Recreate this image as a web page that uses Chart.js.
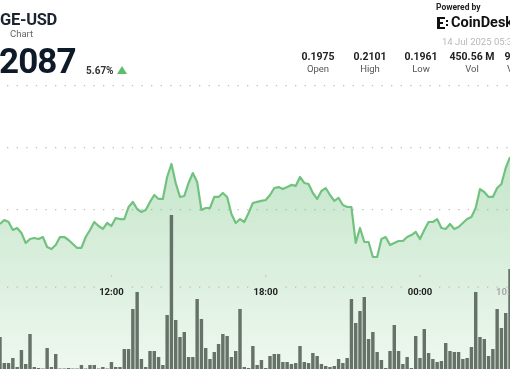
<!DOCTYPE html>
<html>
<head>
<meta charset="utf-8">
<script src="https://cdn.jsdelivr.net/npm/chart.js@4.4.0/dist/chart.umd.min.js"></script>
<style>
html, body { margin: 0; padding: 0; background: #fff; }
#wrap { position: relative; width: 510px; height: 369px; overflow: hidden; font-family: Roboto, "Noto Sans", sans-serif; }
#chart { position: absolute; left: 0; top: 0; }
.t { position: absolute; line-height: 1; white-space: nowrap; }
.stat { position: absolute; width: 60px; text-align: center; line-height: 1; white-space: nowrap; }
.stat b { display: block; font-size: 10.5px; font-weight: 700; color: #222; }
.stat span { display: block; font-size: 9.5px; color: #555; margin-top: 1.5px; }
.tick { position: absolute; width: 40px; text-align: center; font-size: 9.5px; font-weight: 700; color: #222; line-height: 1; }
</style>
</head>
<body>
<div id="wrap">
  <canvas id="chart" width="510" height="369"></canvas>

  <div class="t" style="left:0;top:12px;font-size:16.5px;font-weight:700;color:#1b2430;letter-spacing:-0.3px">GE-USD</div>
  <div class="t" style="left:10px;top:28.5px;font-size:9.5px;color:#666">Chart</div>
  <div class="t" style="left:-1px;top:43.5px;font-size:35px;font-weight:700;color:#0e1a28;letter-spacing:-0.9px">2087</div>
  <div class="t" style="left:86px;top:65.5px;font-size:10px;font-weight:700;color:#333">5.67%</div>
  <div style="position:absolute;left:117px;top:66px;width:0;height:0;border-left:5px solid transparent;border-right:5px solid transparent;border-bottom:8px solid #5bbd6a"></div>

  <div class="t" style="left:436px;top:2.5px;font-size:8.5px;font-weight:700;color:#222">Powered by</div>
  <div style="position:absolute;left:437px;top:17px;width:3px;height:12px;background:#111"></div>
  <div style="position:absolute;left:437px;top:17px;width:8px;height:2px;background:#111"></div>
  <div style="position:absolute;left:437px;top:22px;width:6px;height:2px;background:#111"></div>
  <div style="position:absolute;left:437px;top:27px;width:8px;height:2px;background:#111"></div>
  <div style="position:absolute;left:446px;top:20px;width:2px;height:2px;background:#111"></div>
  <div style="position:absolute;left:446px;top:24px;width:2px;height:2px;background:#111"></div>
  <div class="t" style="left:451px;top:16px;font-size:14.5px;font-weight:700;color:#111">CoinDesk</div>
  <div class="t" style="left:442px;top:36.5px;font-size:9.5px;color:#b8b8b8">14 Jul 2025 05:30</div>

  <div class="stat" style="left:288px;top:51.5px"><b>0.1975</b><span>Open</span></div>
  <div class="stat" style="left:340px;top:51.5px"><b>0.2101</b><span>High</span></div>
  <div class="stat" style="left:391px;top:51.5px"><b>0.1961</b><span>Low</span></div>
  <div class="stat" style="left:442px;top:51.5px"><b>450.56 M</b><span>Vol</span></div>
  <div class="stat" style="left:494px;top:51.5px"><b>91.02 M</b><span>Vol USD</span></div>

  <div class="t" style="left:496px;top:286.5px;font-size:9.5px;font-weight:700;color:#aaa">10:30</div>
</div>

<script>
// 10-minute candles, first one at 07:40
const startTime = '07:40';
const stepMinutes = 10;

// volume per candle (M)
const volumes = [
  6.4, 1.2, 1.2, 2.2, 0.4, 3.8, 1.0, 7.0, 0.4, 0.2,
  0.1, 4.2, 0.4, 3.0, 0.1, 0.1, 0.2, 0.1, 0.1, 0.8,
  0.1, 0.8, 0.8, 0.1, 0.4, 0.1, 1.4, 0.4, 0.4, 4.0,
  4.0, 12.0, 15.4, 2.0, 0.4, 3.6, 3.6, 2.4, 0.8, 10.8,
  30.8, 9.8, 6.4, 7.4, 2.4, 2.4, 14.0, 10.0, 4.2, 2.0,
  3.4, 5.0, 7.0, 6.6, 2.4, 3.6, 12.0, 0.4, 0.2, 4.6,
  0.8, 1.8, 0.2, 2.6, 3.0, 3.0, 1.4, 1.4, 1.0, 1.2,
  4.6, 1.4, 1.2, 3.2, 2.6, 1.0, 0.6, 0.4, 0.6, 2.0,
  1.2, 2.2, 14.0, 9.2, 11.6, 14.4, 6.0, 7.4, 3.4, 1.8,
  0.2, 3.6, 8.8, 3.6, 1.0, 2.4, 0.2, 6.6, 2.2, 8.0,
  3.2, 2.0, 1.4, 1.6, 5.2, 3.6, 3.4, 3.4, 2.0, 2.2,
  4.4, 15.4, 6.4, 6.0, 2.6, 4.0, 12.0, 8.2, 11.2, 20.0
];

// close price per candle (USD)
const prices = [
  0.19887, 0.19919, 0.19903, 0.19839, 0.19855, 0.19815, 0.19734, 0.19766, 0.19774, 0.19766,
  0.19782, 0.19702, 0.19685, 0.19718, 0.19782, 0.19782, 0.19758, 0.19726, 0.19694, 0.19694,
  0.19782, 0.19839, 0.19903, 0.19871, 0.19847, 0.19895, 0.19871, 0.19935, 0.19927, 0.19927,
  0.20024, 0.20065, 0.20008, 0.19984, 0.20000, 0.20065, 0.20121, 0.20089, 0.20089, 0.20266,
  0.20371, 0.20218, 0.20105, 0.20113, 0.20218, 0.20298, 0.20226, 0.20000, 0.20016, 0.20016,
  0.20105, 0.20105, 0.20137, 0.20105, 0.19968, 0.19895, 0.19927, 0.19903, 0.19976, 0.20056,
  0.20065, 0.20073, 0.20081, 0.20121, 0.20177, 0.20185, 0.20169, 0.20185, 0.20202, 0.20194,
  0.20266, 0.20218, 0.20210, 0.20137, 0.20089, 0.20153, 0.20177, 0.20121, 0.20073, 0.20097,
  0.20040, 0.20024, 0.20024, 0.19734, 0.19855, 0.19742, 0.19742, 0.19621, 0.19621, 0.19766,
  0.19782, 0.19718, 0.19734, 0.19750, 0.19750, 0.19782, 0.19798, 0.19823, 0.19766, 0.19839,
  0.19903, 0.19903, 0.19927, 0.19855, 0.19847, 0.19887, 0.19847, 0.19863, 0.19895, 0.19927,
  0.19944, 0.20016, 0.20169, 0.20145, 0.20105, 0.20105, 0.20177, 0.20210, 0.20339, 0.20427
];

const tickLabels = ['12:00', '18:00', '00:00'];
const priceGrid = [0.21, 0.205, 0.2];

// build the candle time labels
const [h0, m0] = startTime.split(':').map(Number);
const labels = volumes.map((_, i) => {
    const m = (h0 * 60 + m0 + i * stepMinutes) % 1440;
    return String(Math.floor(m / 60)).padStart(2, '0') + ':' + String(m % 60).padStart(2, '0');
});

// dotted time row behind the bars
const timeRow = {
    id: 'timeRow',
    beforeDatasetsDraw(chart) {
        const { ctx, scales } = chart;
        const gaps = tickLabels.map(l => scales.x.getPixelForValue(labels.indexOf(l)));
        ctx.save();
        ctx.fillStyle = '#b9bfba';
        for (let x = 7; x < 510; x += 9.6) {
            if (gaps.some(g => Math.abs(g - x) < 17)) continue;
            ctx.fillRect(x, 286.5, 1.3, 1.3);
        }
        gaps.forEach(g => ctx.fillRect(g - 0.6, 275.5, 1.3, 1.3));
        ctx.restore();
    }
};

const chart = new Chart(document.getElementById('chart'), {
    data: {
        labels: labels,
        datasets: [
            {
                type: 'line',
                data: prices,
                yAxisID: 'y',
                order: 0,
                borderColor: '#72c27f',
                borderWidth: 2.2,
                borderJoinStyle: 'round',
                pointRadius: 0,
                tension: 0,
                fill: 'start',
                backgroundColor: (c) => {
                    const area = c.chart.chartArea;
                    if (!area) return 'rgba(114,194,127,0.2)';
                    const g = c.chart.ctx.createLinearGradient(0, 150, 0, area.bottom);
                    g.addColorStop(0, 'rgba(114,194,127,0.42)');
                    g.addColorStop(1, 'rgba(114,194,127,0.12)');
                    return g;
                }
            },
            {
                type: 'bar',
                data: volumes,
                yAxisID: 'vol',
                order: 1,
                backgroundColor: '#667267',
                borderWidth: 0,
                barPercentage: 0.8,
                categoryPercentage: 1
            }
        ]
    },
    options: {
        responsive: false,
        animation: false,
        events: [],
        layout: { padding: 0 },
        plugins: {
            legend: { display: false },
            tooltip: { enabled: false },
            filler: { drawTime: 'beforeDatasetsDraw' }
        },
        scales: {
            x: { type: 'category', offset: false, display: false },
            y: {
                min: 0.187177,
                max: 0.216935,
                afterBuildTicks: (axis) => { axis.ticks = priceGrid.map(v => ({ value: v })); },
                ticks: { display: false },
                grid: { drawTicks: false, color: '#bdbdbd', lineWidth: 1.3 },
                border: { display: false, dash: [1.3, 8.3], dashOffset: 2.6 }
            },
            vol: { display: false, min: 0, max: 73.8 }
        }
    },
    plugins: [timeRow]
});

// time labels placed from the x scale
const wrap = document.getElementById('wrap');
tickLabels.forEach(l => {
    const x = chart.scales.x.getPixelForValue(labels.indexOf(l));
    const d = document.createElement('div');
    d.className = 'tick';
    d.style.left = (x - 20) + 'px';
    d.style.top = '286.5px';
    d.textContent = l;
    wrap.appendChild(d);
});
</script>
</body>
</html>
